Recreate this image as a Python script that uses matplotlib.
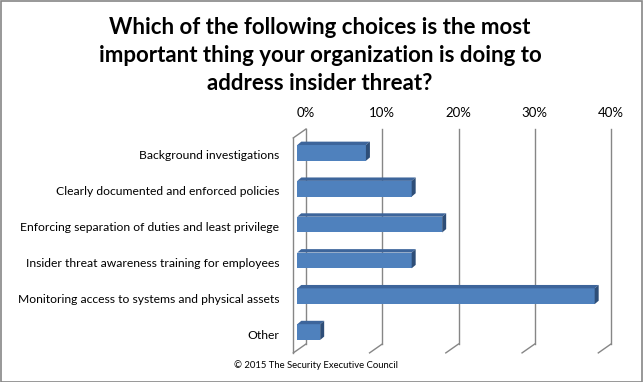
import numpy as np
import matplotlib.pyplot as plt
from matplotlib.patches import Polygon, Rectangle

plt.rcParams['font.family'] = ['Lato', 'DejaVu Sans']

# data
categories = ['Background investigations',
              'Clearly documented and enforced policies',
              'Enforcing separation of duties and least privilege',
              'Insider threat awareness training for employees',
              'Monitoring access to systems and physical assets',
              'Other']
values = [9, 15, 19, 15, 39, 3]
ticks = [0, 10, 20, 30, 40]
tick_labels = ['0%', '10%', '20%', '30%', '40%']
title_lines = ['Which of the following choices is the most',
               'important thing your organization is doing to',
               'address insider threat?']
footer = '\u00a9 2015 The Security Executive Council'

W, H = 643, 382
fig = plt.figure(figsize=(W / 100, H / 100), dpi=100)

# axes = plane of the bar faces (pixels measured on the reference)
L, R, T, B = 297.3, 602.3, 135, 350
ax = fig.add_axes([L / W, 1 - B / H, (R - L) / W, (B - T) / H])
ax.set_xlim(0, 40)
ax.set_ylim(5.5, -0.5)
ax.axis('off')

px_x = 40 / (R - L)          # data units per pixel
px_y = 6 / (B - T)
back_dx, back_dy = 8.7 * px_x, -6.0 * px_y
front_dx, front_dy = -4.0 * px_x, 2.9 * px_y
bar_dx, bar_dy = 4.0 * px_x, -3.4 * px_y
grid = '#868686'

# back wall grid lines
for t in ticks:
    ax.plot([t + back_dx, t + back_dx], [-0.5 + back_dy, 5.5 + back_dy],
            color=grid, lw=1, clip_on=False, zorder=1)
    # floor diagonals
    ax.plot([t + front_dx, t + back_dx], [5.5 + front_dy, 5.5 + back_dy],
            color=grid, lw=1, clip_on=False, zorder=1)
# left wall
ax.plot([front_dx, front_dx], [-0.5 + front_dy, 5.5 + front_dy],
        color=grid, lw=1, clip_on=False, zorder=1)
ax.plot([front_dx, back_dx], [-0.5 + front_dy, -0.5 + back_dy],
        color=grid, lw=1, clip_on=False, zorder=1)

# bars
h = 0.44
ypos = np.arange(len(categories))
ax.barh(ypos, values, height=h, left=0, color='#4F81BD', zorder=3, clip_on=False)
for y, v in zip(ypos, values):
    yt, yb = y - h / 2, y + h / 2
    top = Polygon([(0, yt), (v, yt), (v + bar_dx, yt + bar_dy), (bar_dx, yt + bar_dy)],
                  closed=True, facecolor='#3D659B', edgecolor='none', zorder=3, clip_on=False)
    side = Polygon([(v, yt), (v, yb), (v + bar_dx, yb + bar_dy), (v + bar_dx, yt + bar_dy)],
                   closed=True, facecolor='#2E4E78', edgecolor='none', zorder=3, clip_on=False)
    ax.add_patch(top)
    ax.add_patch(side)

# category labels
for y, c in zip(ypos, categories):
    ax.text(-18 * px_x, y + 3 * px_y, c, ha='right', va='center', fontsize=8.75,
            color='black', clip_on=False)

# tick labels at top
for t, lab in zip(ticks, tick_labels):
    ax.text(t + back_dx, -0.5 - 22 * px_y, lab, ha='center', va='center',
            fontsize=9.5, clip_on=False)

# title
for i, line in enumerate(title_lines):
    fig.text(320 / W, 1 - (34 + 28 * i) / H, line, ha='center', va='baseline',
             fontsize=16, fontweight='bold')

fig.text(316 / W, 1 - 365 / H, footer, ha='center', va='center', fontsize=6.8)

fig.patches.append(Rectangle((0.5 / W, 0.5 / H), 1 - 1.5 / W, 1 - 1.5 / H,
                             transform=fig.transFigure, fill=False,
                             edgecolor='#868686', lw=1.2))

fig.savefig('out.png', dpi=100)
